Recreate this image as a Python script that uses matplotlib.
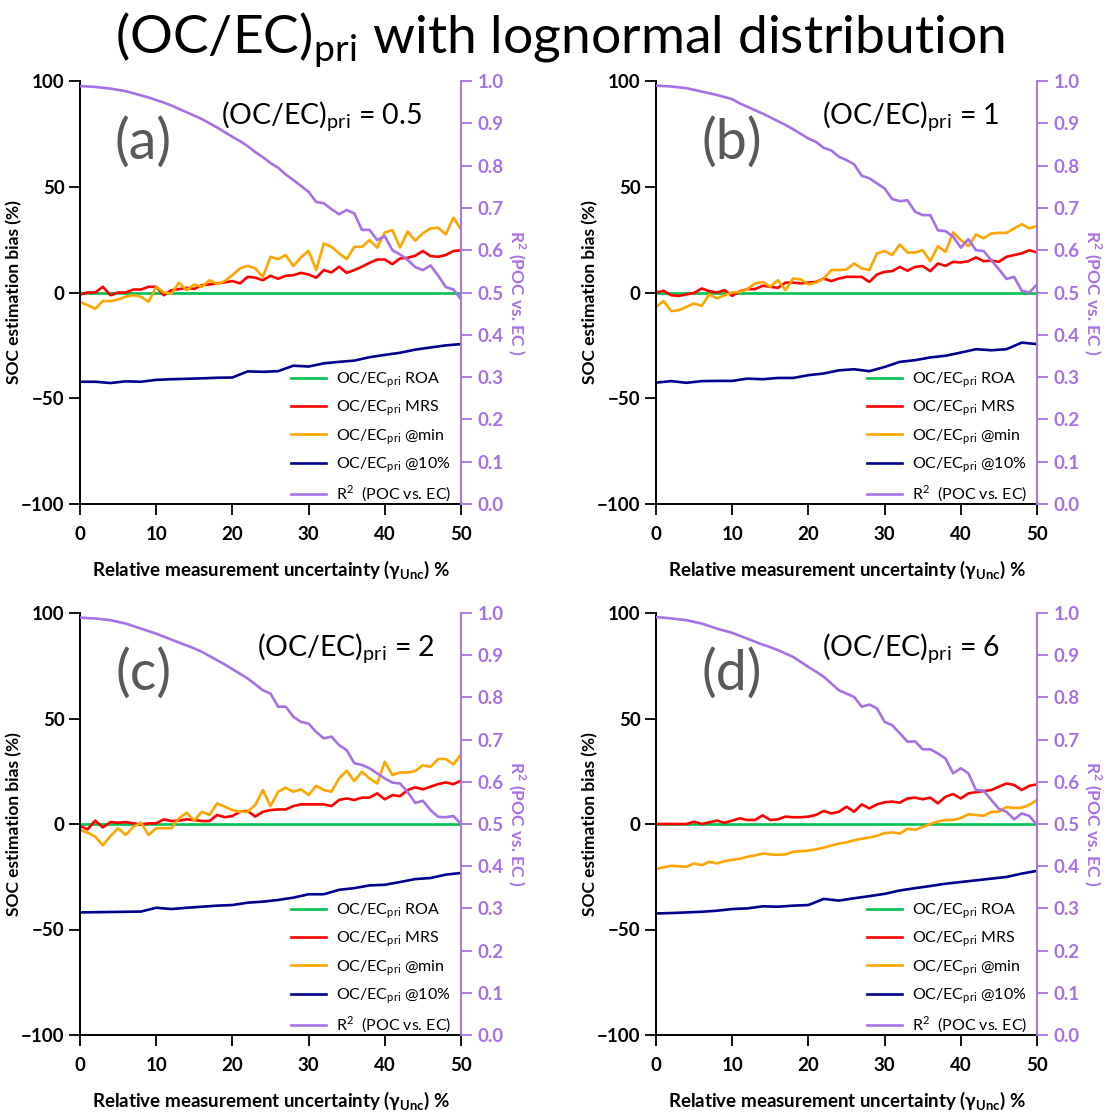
import numpy as np
import matplotlib
matplotlib.use("Agg")
import matplotlib.pyplot as plt

plt.rcParams["font.family"] = ["Lato", "DejaVu Sans"]
plt.rcParams["mathtext.fontset"] = "custom"
plt.rcParams["mathtext.rm"] = "Lato"
plt.rcParams["mathtext.bf"] = "Lato:bold"

GREEN, RED, ORANGE, NAVY, PURPLE = "#00c050", "#ff0000", "#ffa500", "#00008f", "#a771e6"
GREY = "#595959"

# x axis: relative measurement uncertainty (%)
x_fine = np.arange(0, 51, 1)
x_coarse = np.arange(0, 51, 2)

ratios = ["0.5", "1", "2", "6"]
letters = ["(a)", "(b)", "(c)", "(d)"]

# --- panel (a) (OC/EC)pri = 0.5 ---
mrs_a = [-1, 0, 0, 2.7, -1.3, 0, 0, 1.4, 1.4, 2.7, 2.7, -1.3, 1.1, 1.6, 2.2, 1.7, 3.5, 3.8, 4.3, 4.8,
         5.4, 4.3, 7.4, 7.0, 5.8, 7.9, 6.5, 7.9, 8.2, 9.3, 8.5, 7.0, 10.6, 9.5, 12.2, 9.3, 10.6, 12.2,
         14.0, 15.6, 15.6, 13.4, 16.1, 16.4, 17.4, 19.6, 17.2, 16.9, 17.7, 19.6, 20.0]
min_a = [-4.4, -6.0, -7.7, -4.0, -4.1, -3.3, -2.0, -1.3, -2.0, -4.4, 2.7, 0.0, -0.5, 4.6, 1.1, 3.8, 2.7,
         5.8, 4.0, 5.4, 8.2, 11.4, 12.6, 11.4, 7.4, 16.9, 15.8, 17.7, 12.5, 16.6, 19.7, 10.6, 23.2, 21.6,
         18.5, 15.8, 21.6, 21.6, 24.8, 21.2, 28.4, 29.5, 21.3, 28.8, 24.5, 28.0, 30.3, 30.6, 27.5, 35.4, 29.9]
p10_a = [-42.2, -42.2, -42.8, -42.0, -42.2, -41.3, -41.0, -40.8, -40.6, -40.3, -40.2, -37.3, -37.5,
         -37.2, -34.6, -35.0, -33.5, -32.8, -32.2, -30.6, -29.5, -28.5, -27.0, -26.0, -25.0, -24.4]
r2_a = [0.988, 0.987, 0.986, 0.984, 0.982, 0.979, 0.976, 0.971, 0.966, 0.961, 0.955, 0.949, 0.942, 0.934,
        0.926, 0.918, 0.910, 0.900, 0.890, 0.879, 0.868, 0.858, 0.846, 0.832, 0.820, 0.806, 0.795, 0.779,
        0.766, 0.752, 0.738, 0.714, 0.711, 0.697, 0.685, 0.695, 0.687, 0.648, 0.648, 0.624, 0.633, 0.600,
        0.590, 0.577, 0.560, 0.553, 0.564, 0.540, 0.513, 0.507, 0.484]

# --- panel (b) (OC/EC)pri = 1 ---
mrs_b = [0.0, 0.8, -1.3, -1.6, -0.9, -0.2, 1.9, 0.6, 0.0, 1.1, -1.6, 0.6, 1.6, 1.6, 3.2, 2.7, 2.2, 4.7,
         4.7, 4.3, 4.7, 5.0, 6.6, 5.4, 6.6, 7.4, 7.4, 7.4, 5.0, 8.5, 9.8, 10.1, 12.1, 10.3, 12.1, 12.5,
         10.1, 13.7, 12.6, 14.5, 14.2, 14.8, 16.6, 14.8, 15.1, 14.5, 16.9, 17.7, 18.5, 20.0, 18.9]
min_b = [-6.8, -4.1, -8.8, -8.4, -6.8, -5.2, -6.3, -0.9, -2.8, -1.3, 0.0, 0.3, 1.6, 4.3, 5.0, 2.7, 5.8,
         1.1, 6.6, 6.2, 3.8, 4.7, 6.6, 10.6, 10.6, 10.9, 13.7, 11.4, 10.6, 18.5, 19.6, 17.7, 22.7, 18.9,
         18.9, 20.0, 14.8, 21.9, 19.2, 28.4, 24.8, 21.9, 27.4, 25.6, 27.9, 28.2, 28.2, 30.3, 32.3, 30.3, 31.5]
p10_b = [-42.6, -41.9, -42.7, -41.9, -41.8, -41.8, -40.7, -41.0, -40.4, -40.4, -39.1, -38.3, -36.8,
         -36.3, -37.2, -35.2, -32.8, -32.0, -30.7, -29.9, -28.4, -26.8, -27.3, -26.8, -23.7, -24.4]
r2_b = [0.989, 0.988, 0.987, 0.985, 0.983, 0.979, 0.975, 0.971, 0.967, 0.962, 0.957, 0.947, 0.939, 0.931,
        0.923, 0.914, 0.905, 0.896, 0.886, 0.875, 0.864, 0.856, 0.842, 0.836, 0.821, 0.813, 0.803, 0.776,
        0.770, 0.758, 0.746, 0.721, 0.716, 0.718, 0.691, 0.683, 0.683, 0.647, 0.645, 0.632, 0.606, 0.626,
        0.600, 0.598, 0.576, 0.555, 0.532, 0.537, 0.504, 0.500, 0.519]

# --- panel (c) (OC/EC)pri = 2 ---
mrs_c = [-1.0, -2.5, 1.6, -1.6, 0.9, 0.6, 0.9, 0.3, -0.2, 0.3, 0.3, 2.2, 1.4, 1.6, 2.2, 1.9, 1.4, 1.4,
         4.3, 3.2, 3.8, 5.8, 6.2, 3.5, 5.8, 6.6, 6.9, 6.9, 8.5, 9.3, 9.3, 9.3, 9.3, 8.5, 11.4, 12.1, 11.4,
         12.5, 12.5, 14.5, 11.7, 13.7, 13.2, 16.1, 17.4, 16.4, 17.7, 18.9, 19.7, 18.9, 20.5]
min_c = [-2.8, -4.1, -6.0, -10.1, -5.7, -2.0, -5.2, -1.3, 0.6, -5.2, -2.0, -2.0, -2.0, 2.7, 5.4, 1.6, 5.8,
         4.3, 9.8, 8.2, 6.6, 5.8, 5.8, 9.0, 16.1, 8.5, 15.3, 17.2, 15.3, 16.4, 13.7, 18.1, 16.1, 15.3,
         21.6, 25.2, 20.3, 24.8, 21.6, 19.2, 29.5, 23.2, 24.4, 24.4, 25.1, 27.9, 27.1, 30.8, 30.8, 28.2, 33.0]
p10_c = [-41.9, -41.8, -41.7, -41.6, -41.5, -39.7, -40.3, -39.7, -39.2, -38.7, -38.4, -37.3, -36.8,
         -36.0, -34.9, -33.3, -33.3, -31.2, -30.4, -29.1, -28.8, -27.5, -26.1, -25.6, -24.0, -23.2]
r2_c = [0.989, 0.988, 0.987, 0.985, 0.983, 0.979, 0.975, 0.969, 0.963, 0.957, 0.951, 0.944, 0.937, 0.930,
        0.923, 0.916, 0.908, 0.898, 0.888, 0.878, 0.867, 0.856, 0.845, 0.831, 0.817, 0.809, 0.778, 0.778,
        0.754, 0.742, 0.738, 0.718, 0.703, 0.707, 0.687, 0.675, 0.644, 0.640, 0.632, 0.620, 0.608, 0.598,
        0.596, 0.576, 0.550, 0.555, 0.533, 0.517, 0.516, 0.519, 0.500]

# --- panel (d) (OC/EC)pri = 6 ---
mrs_d = [0, 0, 0, 0, 0, 1.1, 0, 0.8, 1.6, 0.6, 1.6, 2.7, 1.9, 1.9, 4.1, 1.9, 2.2, 3.5, 3.2, 3.2, 3.5,
         4.3, 6.2, 5.0, 5.8, 8.2, 5.8, 9.3, 7.4, 9.3, 10.3, 10.6, 10.1, 12.1, 12.5, 11.7, 12.5, 9.8, 12.9,
         14.2, 12.1, 14.5, 15.1, 15.6, 16.1, 17.7, 19.2, 18.5, 16.1, 18.1, 18.8]
min_d = [-21.4, -20.5, -19.8, -20.0, -20.3, -18.7, -19.5, -17.9, -18.7, -17.6, -17.0, -16.5, -15.5, -14.9,
         -14.0, -14.4, -14.6, -14.4, -13.2, -12.9, -12.6, -12.0, -11.2, -10.2, -9.3, -8.7, -7.7, -7.0,
         -6.4, -5.6, -4.3, -4.0, -4.5, -2.3, -2.8, -1.4, 0.0, 1.2, 1.9, 1.9, 2.8, 4.6, 4.3, 3.9, 5.7, 5.9,
         8.0, 7.6, 7.7, 9.1, 11.4]
p10_d = [-42.4, -42.2, -41.9, -41.6, -41.1, -40.3, -40.0, -39.0, -39.2, -38.7, -38.4, -35.5, -36.3,
         -35.2, -34.2, -33.1, -31.5, -30.4, -29.4, -28.3, -27.5, -26.7, -25.9, -25.1, -23.5, -22.2]
r2_d = [0.990, 0.989, 0.987, 0.985, 0.983, 0.979, 0.975, 0.969, 0.963, 0.958, 0.953, 0.946, 0.939, 0.932,
        0.925, 0.919, 0.912, 0.904, 0.896, 0.884, 0.872, 0.861, 0.849, 0.833, 0.817, 0.809, 0.801, 0.778,
        0.783, 0.774, 0.742, 0.734, 0.715, 0.695, 0.696, 0.677, 0.677, 0.667, 0.655, 0.620, 0.632, 0.620,
        0.580, 0.579, 0.557, 0.536, 0.529, 0.511, 0.525, 0.519, 0.498]

mrs = [mrs_a, mrs_b, mrs_c, mrs_d]
mins = [min_a, min_b, min_c, min_d]
p10 = [p10_a, p10_b, p10_c, p10_d]
r2 = [r2_a, r2_b, r2_c, r2_d]

W, H = 1120, 1113
fig = plt.figure(figsize=(W / 100, H / 100), dpi=100)

# axes boxes in pixels: (left, top, right, bottom)
boxes = [(80, 81, 461, 504), (656, 81, 1037, 504), (80, 613, 461, 1035), (656, 613, 1037, 1035)]
letter_x = [8.3, 10.0, 8.3, 10.0]
ratio_x = [0.37, 0.435, 0.465, 0.435]

for i in range(4):
    l, t, r, b = boxes[i]
    ax = fig.add_axes([l / W, 1 - b / H, (r - l) / W, (b - t) / H])
    ax2 = ax.twinx()

    lw = 1.9
    h1, = ax.plot(x_fine, np.zeros(len(x_fine)), color=GREEN, lw=lw, label=r"OC/EC$_\mathregular{pri}$ ROA")
    h2, = ax.plot(x_fine, mrs[i], color=RED, lw=lw, label=r"OC/EC$_\mathregular{pri}$ MRS")
    h3, = ax.plot(x_fine, mins[i], color=ORANGE, lw=lw, label=r"OC/EC$_\mathregular{pri}$ @min")
    h4, = ax.plot(x_coarse, p10[i], color=NAVY, lw=lw, label=r"OC/EC$_\mathregular{pri}$ @10%")
    h5, = ax2.plot(x_fine, r2[i], color=PURPLE, lw=lw, label=r"R$^\mathregular{2}$  (POC vs. EC)")

    ax.set_xlim(0, 50)
    ax.set_ylim(-100, 100)
    ax2.set_ylim(0, 1)
    ax.set_xticks([0, 10, 20, 30, 40, 50])
    ax.set_yticks([-100, -50, 0, 50, 100])
    ax2.set_yticks(np.round(np.arange(0, 1.01, 0.1), 1))
    ax2.set_yticklabels([f"{v:.1f}" for v in np.arange(0, 1.01, 0.1)])

    for s in ["top", "right"]:
        ax.spines[s].set_visible(False)
    for s in ["top", "left", "bottom"]:
        ax2.spines[s].set_visible(False)
    ax.spines["left"].set_linewidth(1.4)
    ax.spines["bottom"].set_linewidth(1.4)
    ax2.spines["right"].set_color(PURPLE)
    ax2.spines["right"].set_linewidth(1.4)

    ax.tick_params(axis="y", direction="out", length=8, width=1.3, pad=3, labelsize=13.5)
    ax.tick_params(axis="x", direction="out", length=8, width=1.3, pad=8, labelsize=13.5)
    ax2.tick_params(axis="y", direction="out", length=8, width=1.3, pad=4, labelsize=13.5,
                    color=PURPLE, labelcolor=PURPLE)
    for lab in ax.get_xticklabels() + ax.get_yticklabels() + ax2.get_yticklabels():
        lab.set_fontweight("bold")

    ax.set_ylabel("SOC estimation bias (%)", fontsize=12.5, fontweight="bold", labelpad=-1)
    ax.set_xlabel(r"Relative measurement uncertainty (γ$_\mathregular{Unc}$) %",
                  fontsize=13.5, fontweight="bold", labelpad=11)
    ax2.set_ylabel(r"R$^\mathregular{2}$ (POC vs. EC )", fontsize=12.5, fontweight="bold",
                   color=PURPLE, rotation=270, labelpad=17)

    ax.text(letter_x[i], 71, letters[i], fontsize=40, color=GREY, ha="center", va="center")
    ax.text(ratio_x[i], 0.915, r"(OC/EC)$_\mathregular{pri}$ = " + ratios[i], transform=ax.transAxes,
            fontsize=20.5, ha="left", va="center")

    ax2.legend([h1, h2, h3, h4, h5], [h.get_label() for h in [h1, h2, h3, h4, h5]],
               loc="lower right", bbox_to_anchor=(0.99, -0.015), frameon=False, fontsize=11.5,
               handlelength=2.2, labelspacing=0.55, handletextpad=0.6, borderaxespad=0)

fig.text(0.5, 1 - 40 / H, r"(OC/EC)$_\mathregular{pri}$ with lognormal distribution", fontsize=38.5,
         ha="center", va="center")

fig.savefig("out.png", dpi=100)
